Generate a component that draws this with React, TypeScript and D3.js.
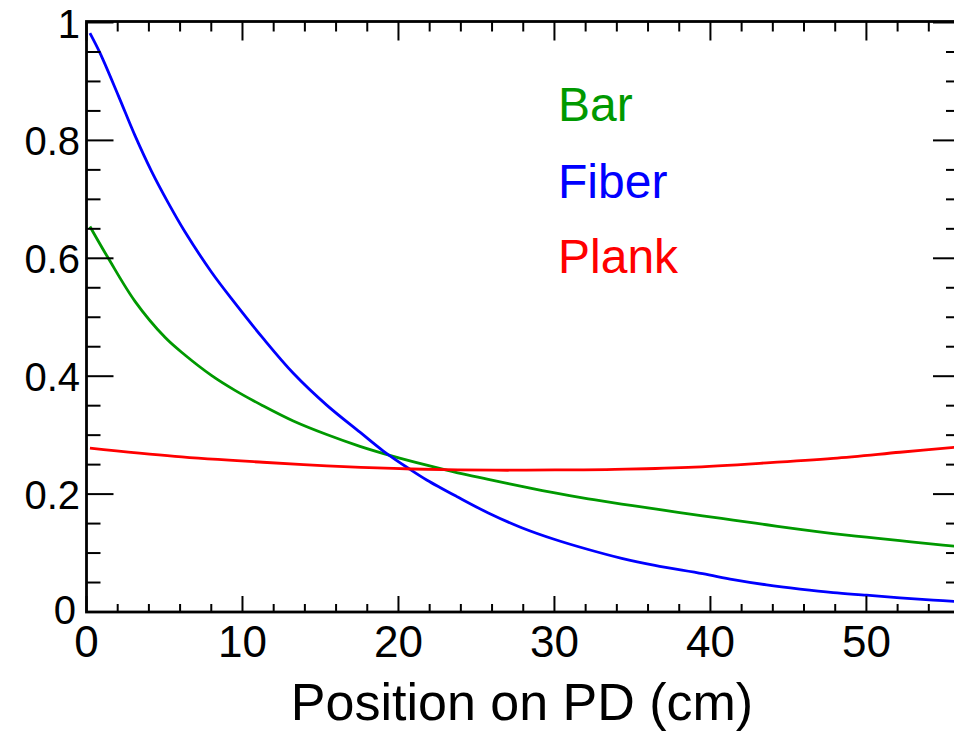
import React from "react";
import * as d3 from "d3";

const fiberX = [0.22, 0.87, 2.04, 3.11, 4.18, 5.24, 6.31, 8.03, 9.52, 11.3, 13.26, 15.4, 17.53, 19.03, 20.74, 21.81, 23.8, 25.76, 27.9, 30.03, 32.17, 34.31, 36.44, 39.5, 41.46, 43.6, 45.74, 47.87, 50.01, 52.15, 54.28, 55.9];
const fiberY = [0.982, 0.948, 0.876, 0.808, 0.747, 0.694, 0.645, 0.576, 0.524, 0.465, 0.405, 0.351, 0.305, 0.273, 0.242, 0.224, 0.195, 0.168, 0.143, 0.123, 0.106, 0.091, 0.079, 0.065, 0.055, 0.046, 0.0388, 0.0328, 0.0285, 0.024, 0.0203, 0.0175];

const barX = [0.22, 1.4, 3.11, 5.03, 6.31, 8.03, 9.52, 11.3, 13.26, 15.4, 17.53, 19.67, 21.81, 23.8, 25.76, 27.9, 30.03, 32.17, 34.31, 36.44, 39.5, 41.46, 43.6, 45.74, 47.87, 50.01, 52.15, 54.28, 55.9];
const barY = [0.654, 0.6, 0.527, 0.466, 0.436, 0.401, 0.376, 0.35, 0.324, 0.301, 0.281, 0.264, 0.249, 0.236, 0.225, 0.213, 0.202, 0.192, 0.183, 0.175, 0.163, 0.156, 0.148, 0.14, 0.133, 0.127, 0.121, 0.115, 0.111];

const plankX = [0.22, 5.67, 11.3, 15.4, 19.67, 23.8, 27.0, 30.03, 33.88, 38.58, 43.6, 47.87, 52.15, 55.9];
const plankY = [0.278, 0.264, 0.254, 0.248, 0.2435, 0.241, 0.2405, 0.241, 0.242, 0.2455, 0.253, 0.2607, 0.271, 0.28];

const seriesNames = ["Bar", "Fiber", "Plank"];
const seriesColors = ["#009900", "#0000ff", "#ff0000"];

const xTicksMajor = [0, 10, 20, 30, 40, 50];
const yTicksMajor = [0, 0.2, 0.4, 0.6, 0.8, 1];
const yTickLabels = ["0", "0.2", "0.4", "0.6", "0.8", "1"];

export default function App() {
  const W = 954, H = 731;
  const left = 86.5, right = 960, top = 21.5, bottom = 612;
  const x = d3.scaleLinear().domain([0, 56]).range([left, right]);
  const y = d3.scaleLinear().domain([0, 1]).range([bottom, 22.5]);
  const line = d3.line<[number, number]>().x(d => x(d[0])).y(d => y(d[1])).curve(d3.curveCatmullRom.alpha(0.5));

  const data: [number, number][][] = [
    barX.map((v, i) => [v, barY[i]]),
    fiberX.map((v, i) => [v, fiberY[i]]),
    plankX.map((v, i) => [v, plankY[i]]),
  ];

  const xMinor = d3.range(0, 57, 2).filter(v => v % 10 !== 0);
  const yMinor = d3.range(0, 21).map(i => i * 0.05).filter(v => Math.abs(v * 5 - Math.round(v * 5)) > 1e-6);

  const font = "'Liberation Sans', Arial, Helvetica, sans-serif";
  const legendY = [121, 198, 273];

  return (
    <svg width={W} height={H} style={{ position: "absolute", left: 0, top: 0, background: "#fff" }}>
      <rect x={0} y={0} width={W} height={H} fill="#fff" />
      <defs>
        <clipPath id="plotclip">
          <rect x={left} y={top} width={right - left} height={bottom - top} />
        </clipPath>
      </defs>
      <g clipPath="url(#plotclip)">
        {data.map((d, i) => (
          <path key={i} d={line(d) || ""} fill="none" stroke={seriesColors[i]} strokeWidth={2.8} />
        ))}
      </g>
      <rect x={left} y={top} width={right - left} height={bottom - top} fill="none" stroke="#000" strokeWidth={2.8} />
      <g stroke="#000" strokeWidth={2}>
        {xTicksMajor.map(v => (
          <g key={"xm" + v}>
            <line x1={x(v)} x2={x(v)} y1={bottom} y2={bottom - 16} />
            <line x1={x(v)} x2={x(v)} y1={top} y2={top + 19} />
          </g>
        ))}
        {xMinor.map(v => (
          <g key={"xn" + v}>
            <line x1={x(v)} x2={x(v)} y1={bottom} y2={bottom - 8} />
            <line x1={x(v)} x2={x(v)} y1={top} y2={top + 10} />
          </g>
        ))}
        {yTicksMajor.map(v => (
          <g key={"ym" + v}>
            <line x1={left} x2={left + 27} y1={y(v)} y2={y(v)} />
            <line x1={right} x2={right - 27} y1={y(v)} y2={y(v)} />
          </g>
        ))}
        {yMinor.map(v => (
          <g key={"yn" + v}>
            <line x1={left} x2={left + 14} y1={y(v)} y2={y(v)} />
            <line x1={right} x2={right - 14} y1={y(v)} y2={y(v)} />
          </g>
        ))}
      </g>
      <g fontFamily={font} fill="#000">
        {xTicksMajor.map(v => (
          <text key={"xl" + v} x={x(v)} y={657} fontSize={44} textAnchor="middle">{v}</text>
        ))}
        {yTicksMajor.map((v, i) => (
          <text key={"yl" + v} x={v === 0 ? 76 : 80} y={v === 0 ? y(v) + 12 : y(v) + 15} fontSize={40} textAnchor="end">{yTickLabels[i]}</text>
        ))}
        <text x={522} y={720} fontSize={52} textAnchor="middle">Position on PD (cm)</text>
      </g>
      <g fontFamily={font}>
        {seriesNames.map((n, i) => (
          <text key={n} x={558} y={legendY[i]} fontSize={48} fill={seriesColors[i]}>{n}</text>
        ))}
      </g>
    </svg>
  );
}
